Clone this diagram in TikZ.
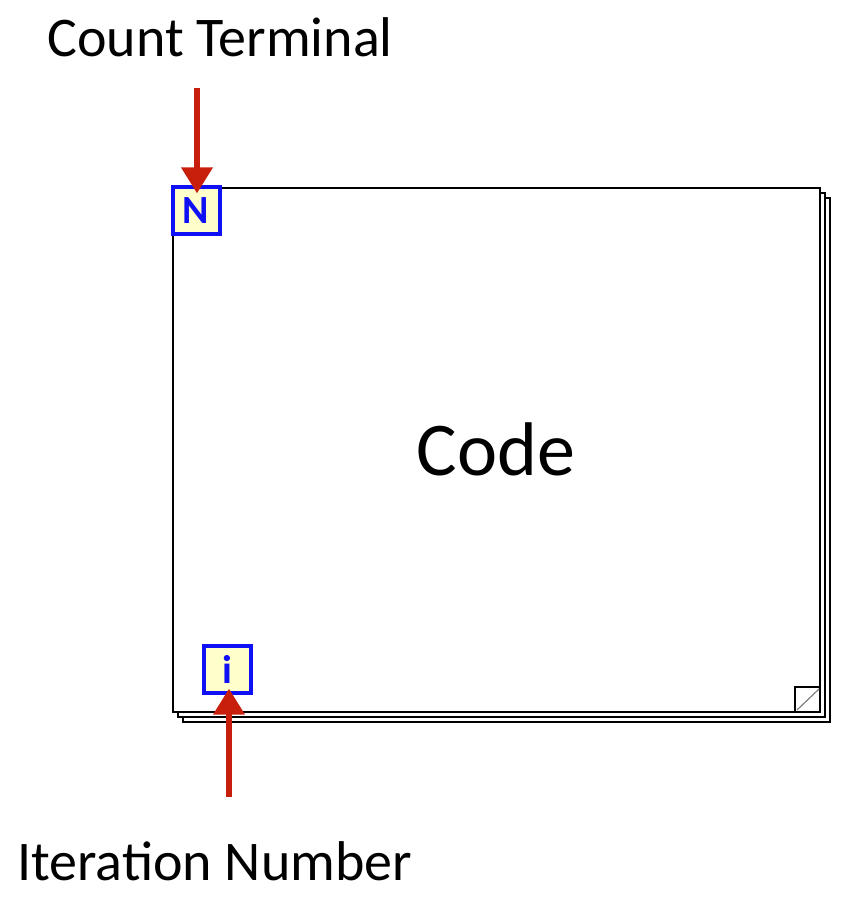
\documentclass[tikz,border=0pt]{standalone}
\usepackage{fontspec}
\setmainfont{Carlito}
\usetikzlibrary{arrows.meta}
\definecolor{arrowred}{RGB}{200,30,12}
\definecolor{termblue}{RGB}{16,16,245}
\definecolor{termfill}{RGB}{255,255,204}
\tikzset{
  terminal/.style={draw=termblue, line width=2pt, fill=termfill, minimum size=23.5pt,
    inner sep=0pt, text=termblue, font=\fontsize{20}{20}\selectfont\bfseries},
  pointer/.style={draw=arrowred, line width=3.2pt, -{Triangle[length=13pt,width=15pt]}},
  loopframe/.style={draw=black, line width=1.1pt, fill=white},
  calltext/.style={font=\fontsize{28}{32}\selectfont, inner sep=0pt}
}
\begin{document}
\begin{tikzpicture}[x=0.5pt,y=-0.5pt]
    \useasboundingbox (0,0) rectangle (843,898);
    % stacked frames of the for loop, back to front
    \foreach \d in {10,5}
    \draw[loopframe] (173+\d,188+\d) rectangle (820+\d,712+\d);
    \draw[loopframe] (173,188) rectangle (820,712);
    % folded corner
    \draw[line width=1.1pt] (795,712) -- (795,687) -- (820,687);
    \draw[line width=0.6pt, gray] (797,710) -- (819,689);

    \node[terminal] (count) at (196,211) {N};
    \node[terminal] (iter) at (227,669) {i};
    \node[font=\fontsize{38}{44}\selectfont, inner sep=0pt, anchor=base] (code) at (496,475) {Code};

    \node[calltext, anchor=base west] (counttext) at (47,57) {Count Terminal};
    \node[calltext, anchor=base west] (itertext) at (17,880) {Iteration Number};

    \coordinate (counttail) at (197,88);
    \coordinate (itertail) at (229,797);
    \draw[pointer, shorten >=-4pt] (counttail) -- (count.north -| counttail);
    \draw[pointer, shorten >=-3pt] (itertail) -- (iter.south -| itertail);
\end{tikzpicture}
\end{document}
